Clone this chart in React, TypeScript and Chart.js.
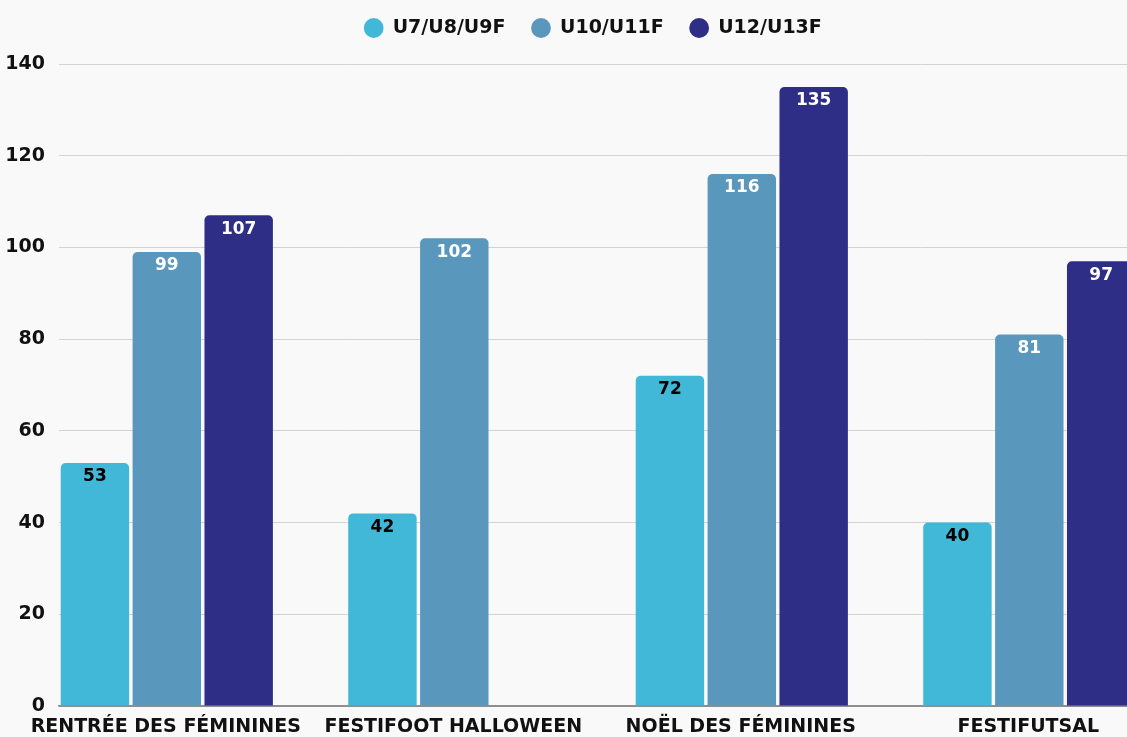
import { useEffect, useRef } from 'react';
import { Chart, registerables } from 'chart.js';

Chart.register(...registerables);

const categories = ['RENTRÉE DES FÉMININES', 'FESTIFOOT HALLOWEEN', 'NOËL DES FÉMININES', 'FESTIFUTSAL'];
const seriesNames = ['U7/U8/U9F', 'U10/U11F', 'U12/U13F'];
const u7Values = [53, 42, 72, 40];
const u10Values = [99, 102, 116, 81];
const u12Values = [107, null, 135, 97];
const spacerValues = [null, null, null, null];
const seriesColors = ['#42b8d8', '#5a97bc', '#2e2e87'];
const labelColors = ['#000000', '#ffffff', '#ffffff'];
const yMin = 0;
const yMax = 140;
const yStep = 20;

const FONT = '"DejaVu Sans", sans-serif';

const legendGap = {
  id: 'legendGap',
  beforeLayout(chart: any) {
    const lg = chart.legend;
    if (lg && !lg.__patched) {
      const orig = lg.fit;
      lg.fit = function () {
        orig.call(this);
        this.height += 16.5;
      };
      lg.__patched = true;
    }
  },
};

const valueLabels = {
  id: 'valueLabels',
  afterDatasetsDraw(chart: any) {
    const ctx = chart.ctx;
    ctx.save();
    ctx.font = `bold 17px ${FONT}`;
    ctx.textAlign = 'center';
    ctx.textBaseline = 'middle';
    chart.data.datasets.forEach((ds: any, di: number) => {
      if (di >= seriesNames.length) return;
      const meta = chart.getDatasetMeta(di);
      meta.data.forEach((el: any, i: number) => {
        const v = ds.data[i];
        if (v === null || v === undefined) return;
        ctx.fillStyle = labelColors[di];
        ctx.fillText(String(v), el.x, el.y + 14);
      });
    });
    ctx.restore();
  },
};

export default function App() {
  const ref = useRef<HTMLCanvasElement | null>(null);

  useEffect(() => {
    document.body.style.margin = '0';
    document.body.style.background = '#f9f9f9';
    const canvas = ref.current;
    if (!canvas) return;
    const seriesValues = [u7Values, u10Values, u12Values];
    const datasets: any[] = seriesNames.map((name, i) => ({
      label: name,
      data: seriesValues[i],
      backgroundColor: seriesColors[i],
      borderWidth: 0,
      borderRadius: 5,
      borderSkipped: 'start',
      barPercentage: 0.952,
      categoryPercentage: 1.0,
      pointStyle: 'circle',
    }));
    datasets.push({
      label: '',
      data: spacerValues,
      backgroundColor: 'rgba(0,0,0,0)',
      borderWidth: 0,
      barPercentage: 0.952,
      categoryPercentage: 1.0,
    });

    const chart = new Chart(canvas, {
      type: 'bar',
      data: { labels: categories, datasets },
      plugins: [legendGap, valueLabels],
      options: {
        responsive: false,
        animation: false,
        maintainAspectRatio: false,
        layout: { padding: { left: -23, top: -7.5, right: 0, bottom: 0 } },
        plugins: {
          tooltip: { enabled: false },
          legend: {
            position: 'top',
            labels: {
              usePointStyle: true,
              pointStyle: 'circle',
              boxWidth: 19,
              boxHeight: 14,
              padding: 26,
              color: '#111111',
              font: { family: FONT, size: 19, weight: 'bold' },
              filter: (item: any) => item.datasetIndex < seriesNames.length,
            },
          },
        },
        scales: {
          x: {
            grid: { display: false, drawTicks: false },
            border: { display: true, color: '#8e8e8e', width: 1.5 },
            ticks: {
              color: '#111111',
              font: { family: FONT, size: 19, weight: 'bold' },
              padding: 10,
              labelOffset: -37,
              maxRotation: 0,
              autoSkip: false,
            },
            afterFit: (s: any) => {
              s.height = 40;
            },
          },
          y: {
            min: yMin,
            max: yMax,
            grid: {
              drawTicks: false,
              color: (c: any) => (c.tick && c.tick.value === 0 ? '#8e8e8e' : '#d2d2d2'),
              lineWidth: 1,
            },
            border: { display: false },
            ticks: {
              stepSize: yStep,
              color: '#111111',
              font: { family: FONT, size: 19, weight: 'bold' },
              padding: 14,
            },
            afterFit: (s: any) => {
              s.width = 82;
            },
          },
        },
      } as any,
    });
    return () => chart.destroy();
  }, []);

  return (
    <div style={{ width: 1127, height: 737, overflow: 'hidden', background: '#f9f9f9', position: 'relative' }}>
      <canvas ref={ref} width={1209} height={746} style={{ width: 1209, height: 746, display: 'block' }} />
    </div>
  );
}
